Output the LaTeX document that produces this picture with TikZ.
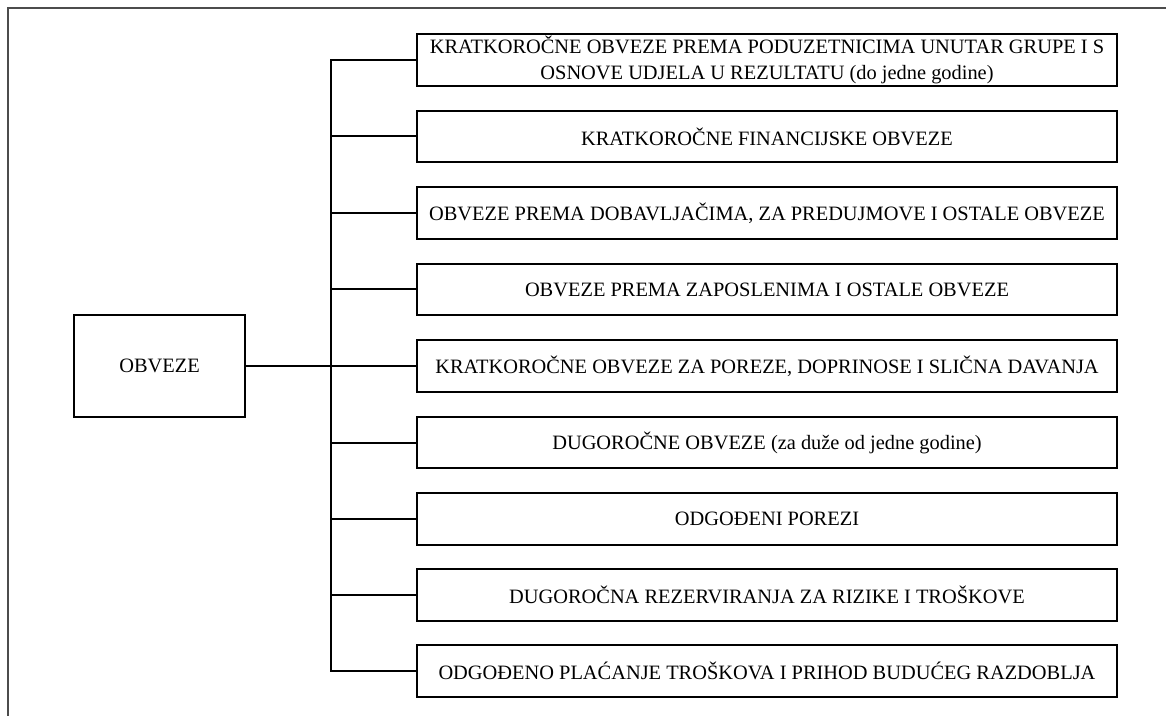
\documentclass[tikz,border=0pt]{standalone}
\usepackage{fontspec}
\setmainfont{Liberation Serif}
\usetikzlibrary{positioning}

\begin{document}
\begin{tikzpicture}[line join=miter,x=0.75pt,y=-0.75pt,
  obvbox/.style={draw,line width=1.5pt,minimum width=525pt,minimum height=38.3pt,inner sep=0pt,align=center,font=\fontsize{15.3}{19.5}\selectfont},
  rootbox/.style={draw,line width=1.5pt,minimum width=128.3pt,minimum height=76.5pt,inner sep=0pt,font=\fontsize{15.3}{18}\selectfont},
  link/.style={line width=1.5pt}]

\useasboundingbox (0,0) rectangle (1166,716);
\draw [line width=0.8pt,color=black!70] (1166,8) -- (8,8) -- (8,716);

\node [rootbox] (obveze) at (159.5,366) {OBVEZE};

\node [obvbox] (b1) at (767,60) {KRATKORO\v{C}NE OBVEZE PREMA PODUZETNICIMA UNUTAR GRUPE I S\\OSNOVE UDJELA U REZULTATU (do jedne godine)};
\node [obvbox] (b2) at (767,136.5) {KRATKORO\v{C}NE FINANCIJSKE OBVEZE};
\node [obvbox] (b3) at (767,213) {OBVEZE PREMA DOBAVLJA\v{C}IMA, ZA PREDUJMOVE I OSTALE OBVEZE};
\node [obvbox] (b4) at (767,289.5) {OBVEZE PREMA ZAPOSLENIMA I OSTALE OBVEZE};
\node [obvbox] (b5) at (767,366) {KRATKORO\v{C}NE OBVEZE ZA POREZE, DOPRINOSE I SLI\v{C}NA DAVANJA};
\node [obvbox] (b6) at (767,442.5) {DUGORO\v{C}NE OBVEZE (za du\v{z}e od jedne godine)};
\node [obvbox] (b7) at (767,519) {ODGO\DJ ENI POREZI};
\node [obvbox] (b8) at (767,595) {DUGORO\v{C}NA REZERVIRANJA ZA RIZIKE I TRO\v{S}KOVE};
\node [obvbox] (b9) at (767,671) {ODGO\DJ ENO PLA\'{C}ANJE TRO\v{S}KOVA I PRIHOD BUDU\'{C}EG RAZDOBLJA};

\coordinate (trunk) at (331,0);

\draw [link] (obveze.east) -- (b5.west);
\draw [link] (b1.west) -- (b1.west -| trunk) -- (b9.west -| trunk) -- (b9.west);
\draw [link] (b2.west) -- (b2.west -| trunk);
\draw [link] (b3.west) -- (b3.west -| trunk);
\draw [link] (b4.west) -- (b4.west -| trunk);
\draw [link] (b6.west) -- (b6.west -| trunk);
\draw [link] (b7.west) -- (b7.west -| trunk);
\draw [link] (b8.west) -- (b8.west -| trunk);

\end{tikzpicture}
\end{document}
